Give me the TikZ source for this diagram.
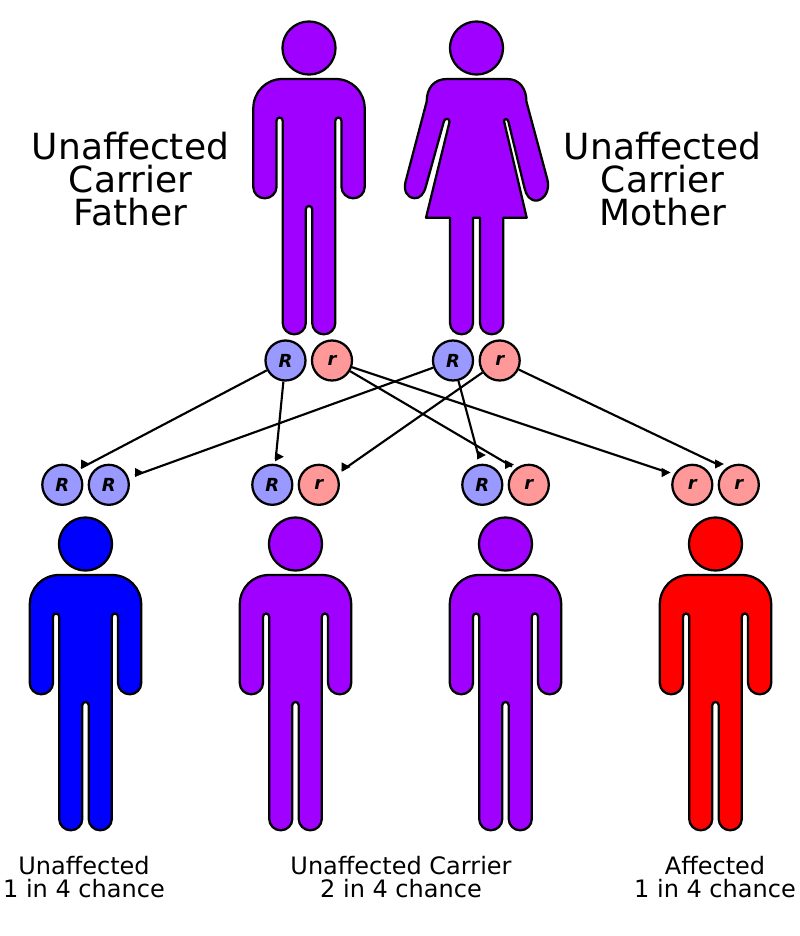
\documentclass[tikz,border=0pt]{standalone}
\usepackage{fontspec}
\setmainfont{DejaVu Sans}
\definecolor{carrier}{HTML}{A000FF}
\definecolor{domblue}{HTML}{0000FF}
\definecolor{recred}{HTML}{FF0000}
\definecolor{allR}{HTML}{9999FF}
\definecolor{allr}{HTML}{FF9999}
\tikzset{
  figure/.style={draw=black,line width=1.7pt,line join=round},
  allele/.style={circle,draw=black,line width=1.7pt,minimum size=30pt,inner sep=0pt,font=\fontsize{13.5}{14}\selectfont\bfseries\itshape},
  domall/.style={allele,fill=allR},
  recall/.style={allele,fill=allr},
  gene/.style={draw=black,line width=1.6pt},
  biglabel/.style={align=center,font=\fontsize{27}{24.75}\selectfont},
  smalllabel/.style={align=center,font=\fontsize{18}{17}\selectfont},
  pics/tiphead/.style={code={
    \fill[black] (0,-4.6) -- (8.8,0) -- (0,4.6) -- cycle;
  }},
  pics/man/.style={code={
    \path[figure,fill=#1] (0,0) circle[radius=19.9pt];
    \path[figure,fill=#1] (26.5,31) .. controls (43,31) and (55.7,44) .. (55.7,60.5)
      -- (55.7,139) .. controls (55.7,145.2) and (50.7,150.3) .. (44.3,150.3)
      .. controls (37.9,150.3) and (32.5,145.2) .. (32.5,139)
      -- (32.5,72.7) .. controls (32.5,70.9) and (31.1,69.5) .. (29.4,69.5)
      .. controls (27.7,69.5) and (26.3,70.9) .. (26.3,72.7)
      -- (26.3,275) .. controls (26.3,281.2) and (21.1,286.3) .. (14.75,286.3)
      .. controls (8.4,286.3) and (3.2,281.2) .. (3.2,275)
      -- (3.2,161.2) .. controls (3.2,159.4) and (1.8,158) .. (0,158)
      .. controls (-1.8,158) and (-3.2,159.4) .. (-3.2,161.2)
      -- (-3.2,275) .. controls (-3.2,281.2) and (-8.4,286.3) .. (-14.75,286.3)
      .. controls (-21.1,286.3) and (-26.3,281.2) .. (-26.3,275)
      -- (-26.3,72.7) .. controls (-26.3,70.9) and (-27.7,69.5) .. (-29.4,69.5)
      .. controls (-31.1,69.5) and (-32.5,70.9) .. (-32.5,72.7)
      -- (-32.5,139) .. controls (-32.5,145.2) and (-37.9,150.3) .. (-44.3,150.3)
      .. controls (-50.7,150.3) and (-55.7,145.2) .. (-55.7,139)
      -- (-55.7,60.5) .. controls (-55.7,44) and (-43,31) .. (-26.5,31) -- cycle;
  }}
}
\begin{document}
\begin{tikzpicture}[x=0.75pt,y=-0.75pt]
\useasboundingbox (0,0) rectangle (800,936);
\pic at (309,48) {man=carrier};
% mother
\path[figure,fill=carrier] (476.5,48) circle[radius=19.9pt];
\path[figure,fill=carrier] (447,79) -- (507,79)
  .. controls (519,79) and (526.4,88) .. (526.4,101.5)
  -- (547.5,180) .. controls (549.5,190) and (545.5,198.5) .. (537.5,200.5)
  .. controls (530,201.5) and (526,195) .. (524.5,188)
  -- (508.5,122) .. controls (507.8,118.5) and (504.5,118) .. (504,121)
  -- (526.7,217.7) -- (503.3,217.7)
  -- (503.3,323) .. controls (503.3,329.2) and (498,334.3) .. (491.6,334.3)
  .. controls (485.2,334.3) and (480,329.2) .. (480,323)
  -- (480,217.7) -- (473,217.7)
  -- (473,323) .. controls (473,329.2) and (467.8,334.3) .. (461.6,334.3)
  .. controls (455.2,334.3) and (450,329.2) .. (450,323)
  -- (450,217.7) -- (426,217.7)
  -- (449.5,122) .. controls (450,118) and (445,118) .. (444,121)
  -- (426,186) .. controls (424,194) and (420,198.5) .. (414.5,198.2)
  .. controls (407,197.5) and (403.5,191) .. (405.5,182)
  -- (426.7,101.5) .. controls (426.7,88) and (434,79) .. (447,79) -- cycle;
\pic at (85.5,544) {man=domblue};
\pic at (295.5,544) {man=carrier};
\pic at (505.5,544) {man=carrier};
\pic at (715.5,544) {man=recred};

\node[domall] (fR) at (285.5,360.5) {R};
\node[recall] (fr) at (332,360.5) {r};
\node[domall] (mR) at (453,360.5) {R};
\node[recall] (mr) at (499.7,360.5) {r};
\node[domall] (a1) at (62.3,484.8) {R};
\node[domall] (a2) at (108.8,484.8) {R};
\node[domall] (b1) at (272.3,484.8) {R};
\node[recall] (b2) at (318.8,484.8) {r};
\node[domall] (c1) at (482.3,484.8) {R};
\node[recall] (c2) at (528.8,484.8) {r};
\node[recall] (d1) at (692.3,484.8) {r};
\node[recall] (d2) at (738.8,484.8) {r};

\coordinate (t1) at (81,468);
\coordinate (t2) at (275.7,459);
\coordinate (t3) at (135,475.5);
\coordinate (t4) at (342,470.5);
\coordinate (t5) at (478.5,456);
\coordinate (t6) at (512,466.5);
\coordinate (t7) at (668,472.5);
\coordinate (t8) at (720,465.5);
\draw[gene] (fR) -- (t1);
\draw[gene] (fR) -- (t2);
\draw[gene] (mR) -- (t3);
\draw[gene] (mr) -- (t4);
\draw[gene] (mR) -- (t5);
\draw[gene] (fr) -- (t6);
\draw[gene] (fr) -- (t7);
\draw[gene] (mr) -- (t8);
\pic at (81,464) {tiphead};
\pic at (275,456.7) {tiphead};
\pic at (135,472.5) {tiphead};
\pic at (341.7,467) {tiphead};
\pic at (477,455) {tiphead};
\pic at (505,464.5) {tiphead};
\pic at (661.7,472.5) {tiphead};
\pic at (715,464) {tiphead};

\node[biglabel] (lf) at (130.5,179) {Unaffected\\Carrier\\Father};
\node[biglabel] (lm) at (662.5,179) {Unaffected\\Carrier\\Mother};
\node[smalllabel] (l1) at (84,877) {Unaffected\\1 in 4 chance};
\node[smalllabel] (l2) at (401,877) {Unaffected Carrier\\2 in 4 chance};
\node[smalllabel] (l3) at (715,877) {Affected\\1 in 4 chance};
\end{tikzpicture}
\end{document}
